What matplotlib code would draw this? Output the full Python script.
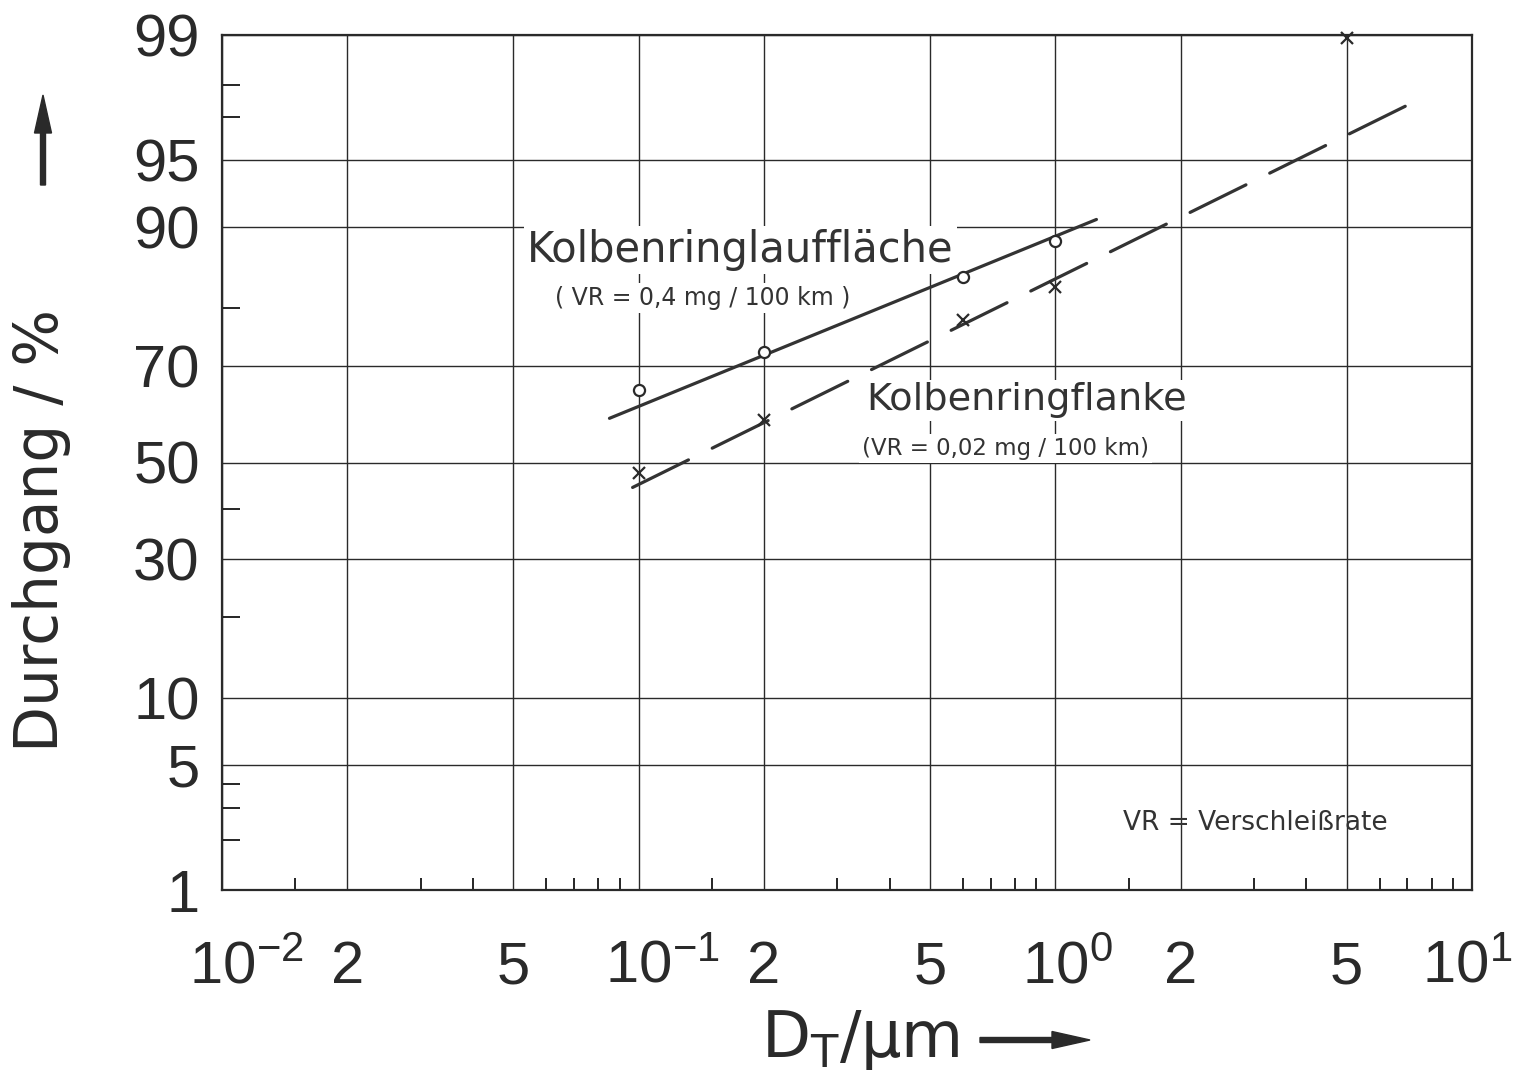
import numpy as np
import matplotlib
matplotlib.use("Agg")
import matplotlib.pyplot as plt
from matplotlib.ticker import FixedLocator, NullFormatter, FixedFormatter
from statistics import NormalDist

NUM = 'Liberation Sans'
plt.rcParams['font.family'] = ['DejaVu Sans']
plt.rcParams['mathtext.fontset'] = 'custom'
plt.rcParams['mathtext.rm'] = NUM
plt.rcParams['mathtext.it'] = NUM
plt.rcParams['mathtext.default'] = 'regular'

# ---- data ----
lauf_x = [0.1, 0.2, 0.6, 1.0]
lauf_y = [65.3, 72.6, 84.3, 88.6]
flanke_x = [0.1, 0.2, 0.6, 1.0, 5.0]
flanke_y = [47.8, 59.1, 78.1, 83.0, 98.95]
lauf_fit_x = [0.0851, 1.255]
lauf_fit_y = [59.5, 90.7]
flanke_fit_x = [0.0967, 6.98]
flanke_fit_y = [44.6, 97.4]

x_major = [0.01, 0.02, 0.05, 0.1, 0.2, 0.5, 1, 2, 5, 10]
x_labels = ['', '2', '5', '', '2', '5', '', '2', '5', '']
x_decades = [0.01, 0.1, 1, 10]
x_decade_labels = [r'$10^{-2}$', r'$10^{-1}$', r'$10^{0}$', r'$10^{1}$']
x_minor = [m * d for d in (0.01, 0.1, 1) for m in (1.5, 3, 4, 6, 7, 8, 9)]
y_major = [1, 5, 10, 30, 50, 70, 90, 95, 99]
y_labels = ['1', '5', '10', '30', '50', '70', '90', '95', '99']
y_minor = [2, 3, 4, 20, 40, 80, 97, 98]

ND = NormalDist()
_ppf = np.vectorize(ND.inv_cdf, otypes=[float])
_cdf = np.vectorize(ND.cdf, otypes=[float])

def fwd(p):
    p = np.asarray(p, dtype=float)
    q = np.clip(p / 100.0, 1e-9, 1 - 1e-9)
    return _ppf(q)

def inv(z):
    z = np.asarray(z, dtype=float)
    return _cdf(z) * 100.0

C = '#2a2a2a'
TS = 43
fig = plt.figure(figsize=(15.19, 10.71), dpi=100)
ax = fig.add_axes([222/1519, 1 - 890/1071, 1250/1519, 855/1071])
ax.set_xscale('log')
ax.set_yscale('function', functions=(fwd, inv))
ax.set_xlim(0.01, 10)
ax.set_ylim(1, 99)

ax.xaxis.set_major_locator(FixedLocator(x_major))
ax.xaxis.set_major_formatter(FixedFormatter(x_labels))
ax.xaxis.set_minor_locator(FixedLocator(x_minor))
ax.xaxis.set_minor_formatter(NullFormatter())
ax.yaxis.set_major_locator(FixedLocator(y_major))
ax.yaxis.set_major_formatter(FixedFormatter(y_labels))
ax.yaxis.set_minor_locator(FixedLocator(y_minor))
ax.yaxis.set_minor_formatter(NullFormatter())

ax.grid(True, which='major', color=C, linewidth=1.0, zorder=0)
ax.set_axisbelow(True)
ax.tick_params(axis='x', which='major', length=0, pad=36, labelsize=TS)
ax.tick_params(axis='y', which='major', length=0, pad=16, labelsize=TS)
ax.tick_params(axis='x', which='minor', direction='in', length=9, width=1.2, top=False)
ax.tick_params(axis='y', which='minor', direction='in', length=13, width=1.2, right=False)
for s in ax.spines.values():
    s.set_linewidth(1.6)
    s.set_color(C)

for lab in ax.get_xticklabels() + ax.get_yticklabels():
    lab.set_color(C)
    lab.set_family([NUM, 'DejaVu Sans'])

# decade labels: "10" centred on the tick, exponent to the right
half10 = 0.556 * TS  # half width of "10" in points
extra_shift = [0, 0, 0, -12]  # keep the last label inside the figure
xt = ax.get_xaxis_transform()
for xv, lab, sh in zip(x_decades, x_decade_labels, extra_shift):
    ax.annotate(lab, xy=(xv, 0), xycoords=xt, xytext=(-half10 + sh, -36),
                textcoords='offset points', ha='left', va='top',
                fontsize=TS, color=C, family=[NUM, 'DejaVu Sans'],
                annotation_clip=False)

ax.plot(lauf_fit_x, lauf_fit_y, color='#333333', lw=2.3, solid_capstyle='round', zorder=5)
ax.plot(flanke_fit_x, flanke_fit_y, color='#333333', lw=2.3, dashes=(19.5, 8.3),
        dash_capstyle='round', zorder=5)
ax.plot(lauf_x, lauf_y, 'o', mfc='white', mec=C, mew=1.6, ms=8, zorder=6)
ax.plot(flanke_x, flanke_y, 'x', color=C, mew=1.6, ms=9, zorder=6, clip_on=False)

box = dict(facecolor='white', edgecolor='none', pad=2)
ax.text(0.244, 0.7345, 'Kolbenringlauffläche', transform=ax.transAxes, fontsize=30,
        color='#333333', va='baseline', ha='left', bbox=box, zorder=3)
ax.text(0.2664, 0.684, '( VR = 0,4 mg / 100 km )', transform=ax.transAxes, fontsize=17,
        color='#333333', va='baseline', ha='left', bbox=box, zorder=3)
ax.text(0.515, 0.561, 'Kolbenringflanke', transform=ax.transAxes, fontsize=27.5,
        color='#333333', va='baseline', ha='left', bbox=box, zorder=3)
ax.text(0.512, 0.509, '(VR = 0,02 mg / 100 km)', transform=ax.transAxes, fontsize=16.5,
        color='#333333', va='baseline', ha='left', bbox=box, zorder=3)
ax.text(0.7208, 0.0702, 'VR = Verschleißrate', transform=ax.transAxes, fontsize=19,
        color='#333333', va='baseline', ha='left', zorder=3)

# axis labels with arrows
fig.text(42/1519, 1 - 530/1071, 'Durchgang / %', rotation=90, fontsize=43,
         color=C, ha='center', va='center')
fig.text(860/1519, 1 - 1040/1071, r'$D_T$/µm', fontsize=46, color=C,
         ha='center', va='center')
fig.patches.append(matplotlib.patches.FancyArrow(
    43/1519, 1 - 185/1071, 0, 90/1071, width=5/1519, head_width=17/1519,
    head_length=38/1071, length_includes_head=True, color=C,
    transform=fig.transFigure, figure=fig))
fig.patches.append(matplotlib.patches.FancyArrow(
    980/1519, 1 - 1040/1071, 110/1519, 0, width=5/1071, head_width=17/1071,
    head_length=38/1519, length_includes_head=True, color=C,
    transform=fig.transFigure, figure=fig))

fig.savefig('out.png', dpi=100, facecolor='white')
